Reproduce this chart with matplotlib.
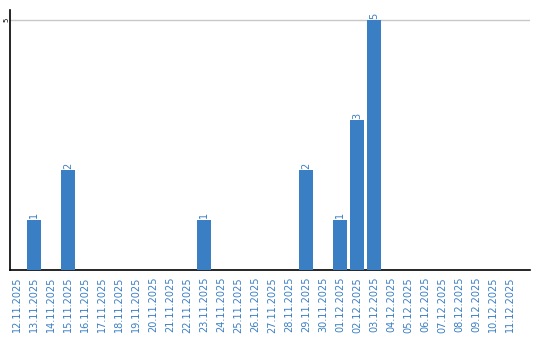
import matplotlib
matplotlib.use("Agg")
import matplotlib.pyplot as plt
from matplotlib.ticker import FixedLocator

dates = ["12.11.2025", "13.11.2025", "14.11.2025", "15.11.2025", "16.11.2025",
         "17.11.2025", "18.11.2025", "19.11.2025", "20.11.2025", "21.11.2025",
         "22.11.2025", "23.11.2025", "24.11.2025", "25.11.2025", "26.11.2025",
         "27.11.2025", "28.11.2025", "29.11.2025", "30.11.2025", "01.12.2025",
         "02.12.2025", "03.12.2025", "04.12.2025", "05.12.2025", "06.12.2025",
         "07.12.2025", "08.12.2025", "09.12.2025", "10.12.2025", "11.12.2025"]
values = [0, 1, 0, 2, 0, 0, 0, 0, 0, 0, 0, 1, 0, 0, 0, 0, 0, 2, 0, 1, 3, 5,
          0, 0, 0, 0, 0, 0, 0, 0]
y_ticks = [5]

bar_color = "#3a7ec4"
text_color = "#3a7ec4"

fig = plt.figure(figsize=(5.4, 3.4), dpi=100)
ax = fig.add_axes([10 / 540, 70 / 340, 520 / 540, 260 / 340])

x = list(range(len(dates)))
bars = ax.bar(x, values, width=0.82, color=bar_color, zorder=3)
for xi, v in zip(x, values):
    if v > 0:
        ax.text(xi, v + 0.03, str(v), rotation=90, ha="center", va="bottom",
                color=text_color, fontsize=7, zorder=4)

ax.set_xlim(-0.41, 30.18)
ax.set_ylim(0, 5.2)
ax.yaxis.set_major_locator(FixedLocator(y_ticks))
ax.set_yticklabels([str(t) for t in y_ticks], rotation=90, fontsize=5,
                   va="center")
ax.tick_params(axis="y", length=0, pad=0.5)
ax.grid(axis="y", color="#c8c8c8", linewidth=1, zorder=1)

ax.set_xticks(x)
ax.set_xticklabels(dates, rotation=90, fontsize=7, color=text_color)
ax.tick_params(axis="x", length=0, pad=5)

for s in ["top", "right"]:
    ax.spines[s].set_visible(False)
ax.spines["left"].set_color("black")
ax.spines["bottom"].set_color("black")
ax.spines["left"].set_linewidth(1.2)
ax.spines["bottom"].set_linewidth(1.2)

fig.savefig("out.png", dpi=100)
